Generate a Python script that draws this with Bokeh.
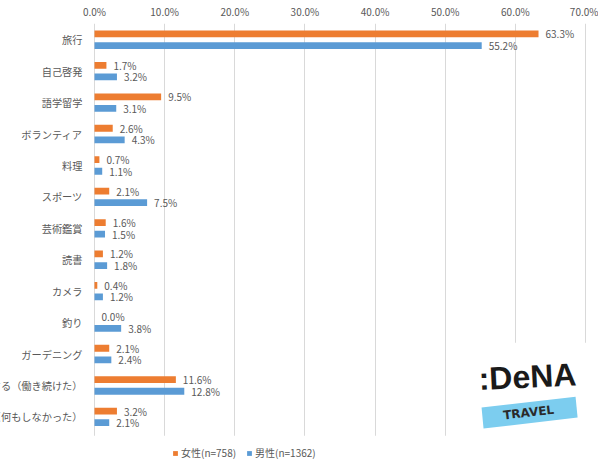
from bokeh.plotting import figure
from bokeh.models import (ColumnDataSource, FixedTicker, PrintfTickFormatter, Legend,
                          LegendItem, Label, BoxAnnotation, PolyAnnotation, Range1d)
from bokeh.transform import dodge
from bokeh.core.properties import value
from bokeh.embed import file_html
from bokeh.resources import INLINE

# ---- data ----
categories = ["旅行", "自己啓発", "語学留学", "ボランティア", "料理", "スポーツ", "芸術鑑賞",
              "読書", "カメラ", "釣り", "ガーデニング", "仕事をする（働き続けた）",
              "何もしない（何もしなかった）"]
female = [63.3, 1.7, 9.5, 2.6, 0.7, 2.1, 1.6, 1.2, 0.4, 0.0, 2.1, 11.6, 3.2]
male = [55.2, 3.2, 3.1, 4.3, 1.1, 7.5, 1.5, 1.8, 1.2, 3.8, 2.4, 12.8, 2.1]
series_labels = ["女性(n=758)", "男性(n=1362)"]
x_ticks = [0, 10, 20, 30, 40, 50, 60, 70]

ORANGE = "#ED7D31"
BLUE = "#5B9BD5"
GRAY = "#595959"
GRID = "#D9D9D9"
JP = "Noto Sans CJK JP"

n = len(categories)
src = ColumnDataSource(dict(
    cat=categories,
    ypos=[n - 0.5 - i for i in range(n)],
    female=female,
    male=male,
    female_lbl=[f"{v:.1f}%" for v in female],
    male_lbl=[f"{v:.1f}%" for v in male],
    zero=[0] * n,
))

p = figure(width=598, height=463, output_backend="svg", toolbar_location=None,
           y_range=Range1d(-0.983, n + 0.017), x_range=Range1d(-13.40, 70.71),
           x_axis_location="above", y_axis_location=None,
           min_border_left=0, min_border_right=8, min_border_top=22, min_border_bottom=0)
p.outline_line_color = None
p.background_fill_color = "white"
p.border_fill_color = "white"

ax = p.xaxis[0]
ax.ticker = FixedTicker(ticks=x_ticks)
ax.formatter = PrintfTickFormatter(format="%.1f%%")
ax.axis_line_color = None
ax.major_tick_line_color = None
ax.minor_tick_line_color = None
ax.major_tick_in = 0
ax.major_tick_out = 0
ax.major_label_standoff = 5
ax.major_label_text_font = JP
ax.major_label_text_font_size = "10px"
ax.major_label_text_color = GRAY

p.xgrid.ticker = FixedTicker(ticks=x_ticks)
p.xgrid.grid_line_color = GRID
p.ygrid.grid_line_color = None

off = 0.184
bh = 0.216
rf = p.hbar(y=dodge("ypos", off), left=0, right="female", height=bh,
            source=src, fill_color=ORANGE, line_color=None)
rm = p.hbar(y=dodge("ypos", -off), left=0, right="male", height=bh,
            source=src, fill_color=BLUE, line_color=None)

p.text(x="female", y=dodge("ypos", off), text="female_lbl", source=src,
       x_offset=7, text_align="left", text_baseline="middle", text_font=value(JP),
       text_font_size="10px", text_color=GRAY)
p.text(x="male", y=dodge("ypos", -off), text="male_lbl", source=src,
       x_offset=7, text_align="left", text_baseline="middle", text_font=value(JP),
       text_font_size="10px", text_color=GRAY)

# category labels (clipped at the left edge like the original)
p.text(x="zero", y="ypos", text="cat", source=src, x_offset=-12, text_align="right",
       text_baseline="middle", text_font=value(JP), text_font_size="10.2px", text_color=GRAY)

# blank strip below the rows (gridlines stop above the legend)
p.add_layout(BoxAnnotation(top=-0.1, fill_color="white", fill_alpha=1, line_color=None))

# DeNA TRAVEL logo (decoration)
p.add_layout(BoxAnnotation(left=52.2, top=2.86, fill_color="white", fill_alpha=1,
                           line_color=None))
p.add_layout(PolyAnnotation(xs=[55.18, 68.58, 68.87, 55.46], ys=[0.795, 1.144, 0.477, 0.128],
                            fill_color="#7CCDEF", fill_alpha=1, line_color=None))
p.add_layout(Label(x=61.88, y=0.636, text="TRAVEL", angle=0.117, text_align="center",
                   text_baseline="middle", text_font="DejaVu Sans", text_font_size="12px",
                   text_font_style="bold", text_color="#2a2a2a"))
p.add_layout(Label(x=61.73, y=1.779, text=":DeNA", angle=0.05, text_align="center",
                   text_baseline="middle", text_font="Liberation Sans",
                   text_font_size="32px", text_font_style="bold", text_color="#1a1a1a"))

legend = Legend(items=[LegendItem(label=series_labels[0], renderers=[rf]),
                       LegendItem(label=series_labels[1], renderers=[rm])],
                orientation="horizontal", location=(172, 3), margin=0, padding=2,
                spacing=10, glyph_width=6, glyph_height=6, label_height=12,
                label_standoff=3, label_text_font=JP, label_text_font_size="10px",
                label_text_color=GRAY, border_line_color=None, background_fill_alpha=0)
p.add_layout(legend)

open("out.html", "w").write(file_html(p, INLINE))
